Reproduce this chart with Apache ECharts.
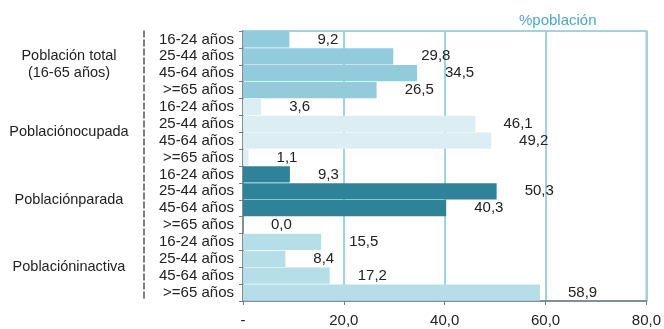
<!DOCTYPE html>
<html>
<head>
<meta charset="utf-8">
<script src="https://cdn.jsdelivr.net/npm/echarts@6/dist/echarts.min.js"></script>
<style>
  html, body { margin: 0; padding: 0; background: #fff; }
  #chart { width: 664px; height: 329px; }
</style>
</head>
<body>
<div id="chart"></div>
<script>
// grupos y edades
var groupNames = ['Población total\n(16-65 años)', 'Poblaciónocupada', 'Poblaciónparada', 'Poblacióninactiva'];
var ageLabels = ['16-24 años', '25-44 años', '45-64 años', '>=65 años'];
// datos (%población)
var totalVals = [9.2, 29.8, 34.5, 26.5];
var ocupadaVals = [3.6, 46.1, 49.2, 1.1];
var paradaVals = [9.3, 50.3, 40.3, 0.0];
var inactivaVals = [15.5, 8.4, 17.2, 58.9];
var xTicks = [0, 20, 40, 60, 80];

var groupColors = ['#92cbdc', '#dceef4', '#2f8399', '#b5dee8'];
var fnt = 'Liberation Sans, Arial, sans-serif';

function fmt(v) { return v.toFixed(1).replace('.', ','); }

var cats = [];
var values = [];
[totalVals, ocupadaVals, paradaVals, inactivaVals].forEach(function (arr) {
    for (var i = 0; i < arr.length; i++) {
        cats.push(ageLabels[i]);
        values.push(arr[i]);
    }
});

var myChart = echarts.init(document.getElementById('chart'));
var option = {
    animation: false,
    title: {
        text: '%población',
        left: 514,
        top: 8,
        textStyle: { color: '#4fa8c2', fontSize: 15, fontWeight: 'normal', fontFamily: fnt }
    },
    grid: {
        left: 243, right: 16, top: 31, bottom: 28,
        show: true, borderColor: '#9fd3e2', borderWidth: 2
    },
    xAxis: {
        type: 'value',
        min: xTicks[0], max: xTicks[xTicks.length - 1], interval: 20,
        axisLine: { show: true, lineStyle: { color: '#7a7a7a', width: 1.5 } },
        axisTick: { show: true, length: 4, lineStyle: { color: '#7a7a7a' } },
        splitLine: { show: true, lineStyle: { color: '#9fd3e2', width: 2 } },
        axisLabel: {
            margin: 12, color: '#222', fontSize: 15, fontFamily: fnt,
            formatter: function (v) { return v === 0 ? '-' : fmt(v); }
        }
    },
    yAxis: [{
        type: 'category',
        inverse: true,
        data: cats,
        axisLine: { show: true, lineStyle: { color: '#7a7a7a', width: 1.5 } },
        axisTick: { show: true, length: 4, lineStyle: { color: '#7a7a7a' } },
        axisLabel: { interval: 0, margin: 9, color: '#222', fontSize: 15, lineHeight: 15, fontFamily: fnt }
    }, {
        type: 'category',
        inverse: true,
        position: 'left',
        offset: 99,
        data: groupNames,
        axisLine: { show: true, lineStyle: { color: '#555', type: 'dashed', width: 1.5 } },
        axisTick: { show: false },
        axisLabel: {
            interval: 0, margin: 75, align: 'center', color: '#222', fontSize: 14.5,
            lineHeight: 17, fontFamily: fnt
        }
    }],
    series: [{
        type: 'bar',
        yAxisIndex: 0,
        data: values,
        barCategoryGap: '3%',
        itemStyle: {
            color: function (p) { return groupColors[Math.floor(p.dataIndex / 4)]; }
        },
        label: {
            show: true,
            position: 'right',
            distance: 28,
            color: '#222',
            fontSize: 15,
            fontFamily: fnt,
            formatter: function (p) { return fmt(p.value); }
        }
    }]
};
myChart.setOption(option);
</script>
</body>
</html>
